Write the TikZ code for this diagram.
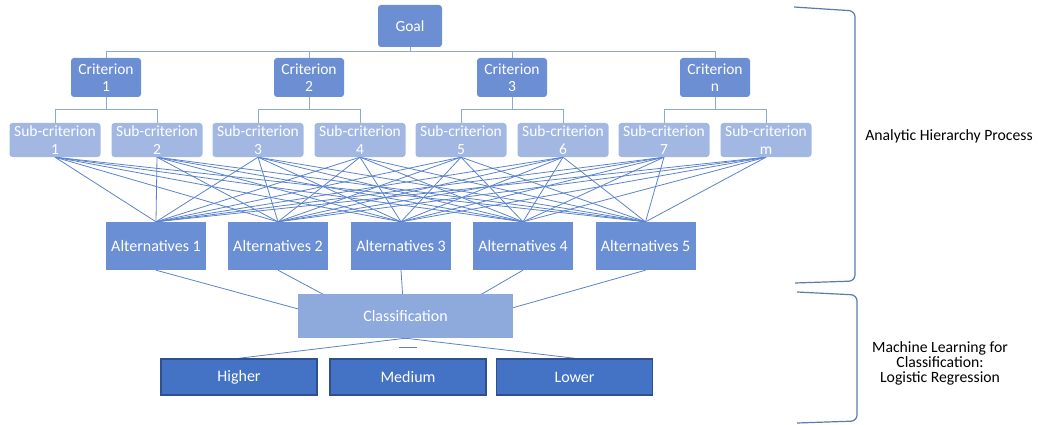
\documentclass[tikz,border=0pt]{standalone}
\usepackage{fontspec}
\setmainfont{Carlito}
\usetikzlibrary{backgrounds,calc}
\definecolor{critblue}{HTML}{6C8ED2}
\definecolor{subblue}{HTML}{A2B8E2}
\definecolor{altblue}{HTML}{6B8FD4}
\definecolor{clsblue}{HTML}{8EA9DB}
\definecolor{darkfill}{HTML}{4472C4}
\definecolor{darkedge}{HTML}{2F4F8F}
\definecolor{meshline}{HTML}{5A82CD}
\definecolor{busline}{HTML}{8FA8D8}
\definecolor{bracecol}{HTML}{5B7BA8}
\tikzset{
  box/.style={inner sep=0pt, text=white, align=center, font=\fontsize{15.5}{17}\selectfont},
  goalbox/.style={box, fill=critblue, rounded corners=3pt, minimum width=64pt, minimum height=42pt},
  critbox/.style={box, fill=critblue, rounded corners=3pt, minimum width=70pt, minimum height=39pt},
  subbox/.style={box, fill=subblue, rounded corners=3pt, minimum width=91pt, minimum height=34pt, font=\fontsize{15.5}{18.5}\selectfont},
  altbox/.style={box, fill=altblue, minimum width=100pt, minimum height=48pt, font=\fontsize{16}{17}\selectfont},
  clsbox/.style={box, fill=clsblue, minimum width=215pt, minimum height=44pt, font=\fontsize{16}{17}\selectfont},
  outbox/.style={box, fill=darkfill, draw=darkedge, line width=1.5pt, minimum width=156pt, minimum height=36pt, font=\fontsize{16}{17}\selectfont},
  bus/.style={draw=busline, line width=1pt},
  mesh/.style={draw=meshline, line width=0.8pt},
  brace/.style={draw=bracecol, line width=1.2pt, rounded corners=6pt},
  sidetext/.style={align=center, text=black, font=\fontsize{15.7}{15}\selectfont}
}
\begin{document}
\begin{tikzpicture}[x=1pt,y=-1pt]
\useasboundingbox (0,0) rectangle (1041,425);
% nodes
\node[goalbox] (goal) at (410,26) {Goal};
\node[critbox] (c1) at (106,77.5) {Criterion\\1};
\node[critbox] (c2) at (309,77.5) {Criterion\\2};
\node[critbox] (c3) at (512,77.5) {Criterion\\3};
\node[critbox] (c4) at (715,77.5) {Criterion\\n};
\node[subbox] (s1) at (55,140) {Sub-criterion\\1};
\node[subbox] (s2) at (157,140) {Sub-criterion\\2};
\node[subbox] (s3) at (258,140) {Sub-criterion\\3};
\node[subbox] (s4) at (360,140) {Sub-criterion\\4};
\node[subbox] (s5) at (461,140) {Sub-criterion\\5};
\node[subbox] (s6) at (563,140) {Sub-criterion\\6};
\node[subbox] (s7) at (664,140) {Sub-criterion\\7};
\node[subbox] (s8) at (766,140) {Sub-criterion\\m};
\node[altbox] (a1) at (156,246) {Alternatives 1};
\node[altbox] (a2) at (278,246) {Alternatives 2};
\node[altbox] (a3) at (401,246) {Alternatives 3};
\node[altbox] (a4) at (523,246) {Alternatives 4};
\node[altbox] (a5) at (645.5,246) {Alternatives 5};
\node[clsbox] (cls) at (405.5,316) {Classification};
\node[outbox] (hi) at (239,377) {Higher};
\node[outbox] (md) at (408,377) {Medium};
\node[outbox] (lo) at (574.5,377) {Lower};
\node[sidetext] (ahp) at (949,136) {Analytic Hierarchy Process};
\node[sidetext] (ml) at (940,363) {Machine Learning for\\Classification:\\Logistic Regression};
\coordinate (bus0) at (0,52);
\coordinate (bus1) at (0,110);
% connectors
\begin{scope}[on background layer]
  \draw[bus] (goal.south) -- (goal.south |- bus0);
  \foreach \c in {c1,c2,c3,c4} {
    \draw[bus] (goal.south |- bus0) -| (\c.north);
  }
  \foreach \c/\a/\b in {c1/s1/s2, c2/s3/s4, c3/s5/s6, c4/s7/s8} {
    \draw[bus] (\c.south) -- (\c.south |- bus1);
    \draw[bus] (\c.south |- bus1) -| (\a.north);
    \draw[bus] (\c.south |- bus1) -| (\b.north);
  }
  \foreach \s in {s1,s2,s3,s4,s5,s6,s7,s8} {
    \foreach \a in {a1,a2,a3,a4,a5} {
      \draw[mesh] (\s.south) -- (\a.north);
    }
  }
  \foreach \a in {a1,a2,a3,a4,a5} {
    \draw[mesh] (\a.south) -- (cls.south);
  }
  \draw[mesh] (cls.south) -- (hi.north);
  \draw[mesh] (cls.south) -- (lo.north);
  \draw[mesh] ($(md.north)+(-9,-11)$) -- ++(18,0);
\end{scope}
% brackets
\draw[brace] (794,7) -- (855,11) -- (855,281) -- (795,283);
\draw[brace] (797,292) -- (857,295) -- (857,421) -- (797,423);
\end{tikzpicture}
\end{document}
